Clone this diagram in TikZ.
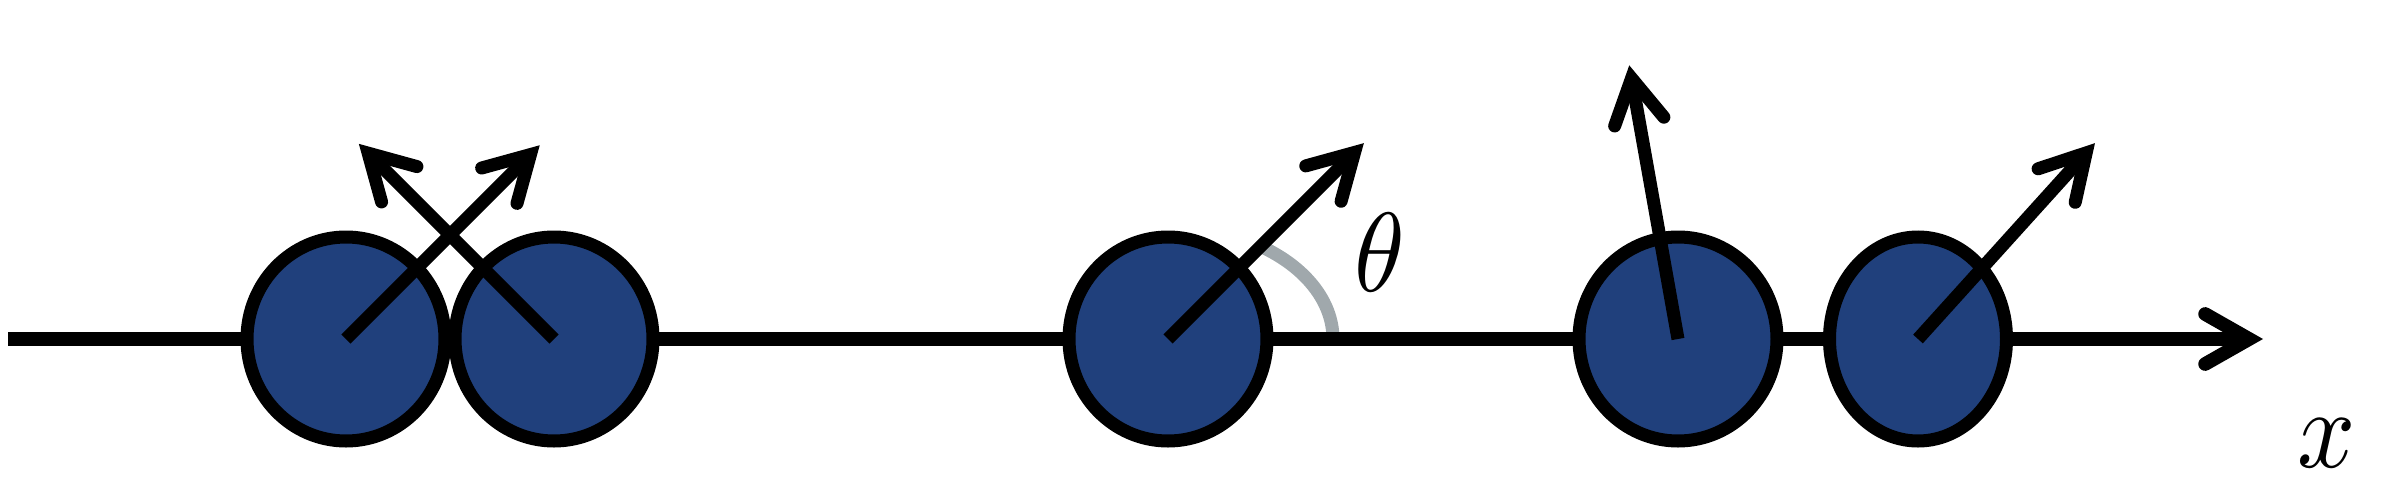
\documentclass[tikz,border=0pt]{standalone}
\usepackage{tikz}
\usetikzlibrary{arrows.meta}
\usetikzlibrary{shapes.geometric}
\definecolor{beadblue}{RGB}{32,64,124}
\definecolor{anglegray}{RGB}{160,168,172}
\tikzset{
  bead/.style={ellipse, draw, fill=beadblue, line width=3.7pt, inner sep=0pt,
    minimum width=1.98cm, minimum height=2.04cm},
  spin/.style={line width=3.7pt,
    -{Straight Barb[length=0.44cm, width=0.5cm, line cap=round, line join=miter]}},
  biglabel/.style={inner sep=0pt, xscale=2.9, yscale=3.2, transform shape}
}
\begin{document}
\begin{tikzpicture}
  \useasboundingbox (0, 0) rectangle (23.83, 4.9);

  \draw [anglegray, line width=3.7pt] (13.33, 1.51)
  arc [start angle=0, end angle=55.8, x radius=1.65, y radius=1.12];

  \coordinate (axstart) at (0.08, 1.51);
  \coordinate (axend) at (22.63, 1.51);
  \draw [spin, line width=3.9pt] (axstart) -- (axend);

  \foreach \n/\x in {1/3.46, 2/5.54, 3/11.68, 4/16.78} {
    \node [bead] (b\n) at (\x, 1.51) {};
  }
  \node [bead, minimum width=1.77cm] (b5) at (19.18, 1.51) {};

  \foreach \n/\a/\l in {1/45/2.74, 2/135/2.76, 3/45/2.77, 4/100.1/2.78, 5/47.9/2.64} {
    \draw [spin] (b\n.center) -- ++(\a:\l);
  }

  \node [biglabel] (theta) at (13.80, 2.38) {$\theta$};
  \node [biglabel] (xlabel) at (23.27, 0.47) {$x$};
\end{tikzpicture}
\end{document}
